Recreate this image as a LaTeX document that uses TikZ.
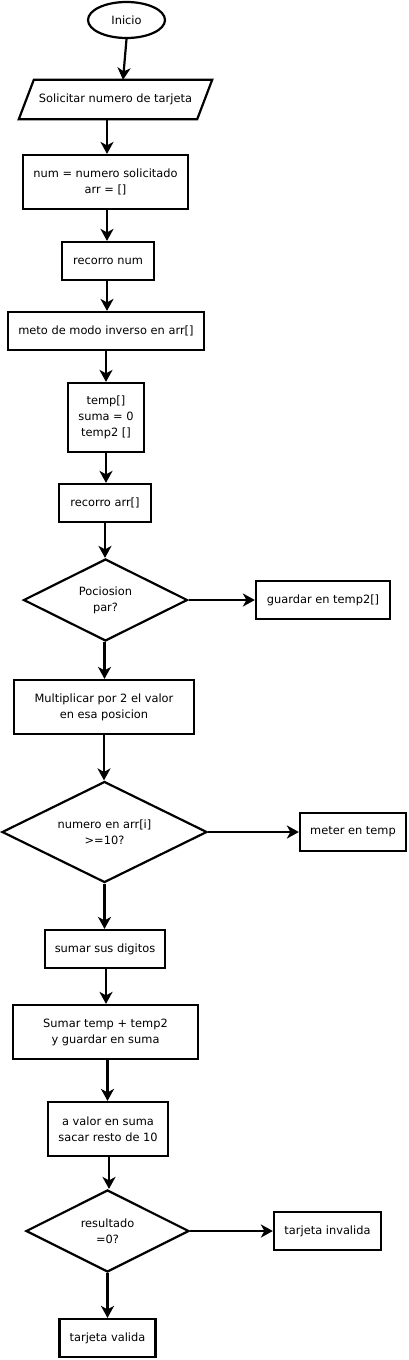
\documentclass[tikz,border=0pt]{standalone}
\usepackage{fontspec}
\setmainfont{DejaVu Sans}
\usetikzlibrary{shapes.geometric,arrows.meta}
\begin{document}
\begin{tikzpicture}[x=1pt,y=-1pt,
  every node/.style={font=\fontsize{11.4}{16}\selectfont, inner sep=0pt, align=center},
  procbox/.style={draw, line width=2.2pt, rectangle},
  decbox/.style={draw, line width=2.2pt, diamond, aspect=2},
  conn/.style={line width=2.2pt, -{Stealth[length=12pt,width=13pt,inset=3.5pt]}}
]
\useasboundingbox (0,0) rectangle (409,1360);
\node[draw, line width=2.2pt, ellipse, minimum width=77pt, minimum height=36pt] (ini) at (126.5,20) {Inicio};
\node[minimum width=193pt, minimum height=39pt] (sol) at (115.5,99.5) {Solicitar numero de tarjeta};
\draw[line width=2.2pt, line join=miter] ([xshift=15pt]sol.north west) -- (sol.north east) -- ([xshift=-15pt]sol.south east) -- (sol.south west) -- cycle;
\node[procbox, minimum width=165pt, minimum height=54pt] (num) at (105.5,182) {num = numero solicitado\\arr = []};
\node[procbox, minimum width=92pt, minimum height=38pt] (rnum) at (108,261) {recorro num};
\node[procbox, minimum width=196pt, minimum height=38pt] (meto) at (106,331) {meto de modo inverso en arr[]};
\node[procbox, minimum width=76pt, minimum height=69pt] (temp) at (106,417.5) {temp[]\\suma = 0\\temp2 []};
\node[procbox, minimum width=92pt, minimum height=38pt] (rarr) at (105,503) {recorro arr[]};
\node[decbox, minimum width=164pt, minimum height=82pt] (d1) at (105.5,600) {Pociosion\\par?};
\node[procbox, minimum width=134pt, minimum height=38pt] (g2) at (323,600) {guardar en temp2[]};
\node[procbox, minimum width=180pt, minimum height=54pt] (mul) at (104,707) {Multiplicar por 2 el valor\\en esa posicion};
\node[decbox, minimum width=205pt, minimum height=101pt] (d2) at (104.5,832) {numero en arr[i]\\>=10?};
\node[procbox, minimum width=106pt, minimum height=38pt] (met) at (353,832) {meter en temp};
\node[procbox, minimum width=120pt, minimum height=38pt] (sdig) at (105,949) {sumar sus digitos};
\node[procbox, minimum width=185pt, minimum height=54pt] (stt) at (105.5,1032) {Sumar temp + temp2\\y guardar en suma};
\node[procbox, minimum width=120pt, minimum height=54pt] (val) at (108,1129) {a valor en suma\\sacar resto de 10};
\node[decbox, minimum width=163pt, minimum height=82pt] (d3) at (107.5,1231) {resultado\\=0?};
\node[procbox, minimum width=107pt, minimum height=38pt] (inv) at (327.5,1231) {tarjeta invalida};
\node[procbox, minimum width=96pt, minimum height=38pt] (ok) at (107.5,1338) {tarjeta valida};
\draw[conn] (ini.south) -- ([xshift=7.5pt]sol.north);
\draw[conn] ([xshift=-8.5pt]sol.south) -- ([xshift=-8.5pt]sol.south |- num.north);
\draw[conn] ([xshift=1.5pt]num.south) -- ([xshift=1.5pt]num.south |- rnum.north);
\draw[conn] ([xshift=-1pt]rnum.south) -- ([xshift=-1pt]rnum.south |- meto.north);
\draw[conn] (meto.south) -- (temp.north);
\draw[conn] (temp.south) -- (temp.south |- rarr.north);
\draw[conn] (rarr.south) -- (rarr.south |- d1.north);
\draw[conn] (d1.east) -- (g2.west);
\draw[conn] ([xshift=-1pt]d1.south) -- ([xshift=-1pt]d1.south |- mul.north);
\draw[conn] (mul.south) -- (mul.south |- d2.north);
\draw[conn] (d2.east) -- (met.west);
\draw[conn] (d2.south) -- (d2.south |- sdig.north);
\draw[conn] ([xshift=1pt]sdig.south) -- ([xshift=1pt]sdig.south |- stt.north);
\draw[conn] ([xshift=2pt]stt.south) -- ([xshift=2pt]stt.south |- val.north);
\draw[conn] ([xshift=1pt]val.south) -- ([xshift=1pt]val.south |- d3.north);
\draw[conn] (d3.east) -- (inv.west);
\draw[conn] (d3.south) -- (ok.north);
\end{tikzpicture}
\end{document}
